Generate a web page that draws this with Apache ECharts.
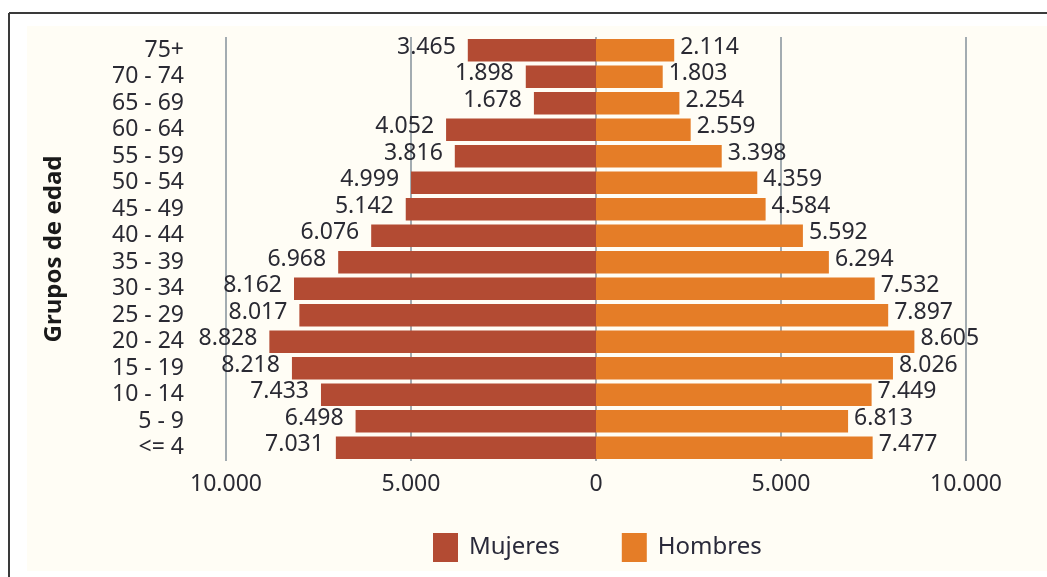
<!DOCTYPE html>
<html><head><meta charset="utf-8">
<script src="https://cdn.jsdelivr.net/npm/echarts@6/dist/echarts.min.js"></script>
<style>html,body{margin:0;padding:0;background:#fff}#c{width:1047px;height:577px}</style>
</head><body><div id="c"></div>
<script>
const categories = ['<= 4','5 - 9','10 - 14','15 - 19','20 - 24','25 - 29','30 - 34','35 - 39','40 - 44','45 - 49','50 - 54','55 - 59','60 - 64','65 - 69','70 - 74','75+'];
const mujeres = [7031,6498,7433,8218,8828,8017,8162,6968,6076,5142,4999,3816,4052,1678,1898,3465];
const hombres = [7477,6813,7449,8026,8605,7897,7532,6294,5592,4584,4359,3398,2559,2254,1803,2114];
const xTicks = [-10000,-5000,0,5000,10000];

function fmt(v){ v=Math.abs(v); const s=String(Math.round(v)); return s.replace(/\B(?=(\d{3})+(?!\d))/g,'.'); }
const F = 'Noto Sans';
const chart = echarts.init(document.getElementById('c'));
chart.setOption({
  backgroundColor:'#ffffff',
  animation:false,
  graphic:[
    {type:'rect',z:-10,shape:{x:27,y:26,width:1020,height:545},style:{fill:'#fffdf5'}},
    {type:'line',z:-5,shape:{x1:9,y1:13,x2:1047,y2:13},style:{stroke:'#3a3a3a',lineWidth:2}},
    {type:'line',z:-5,shape:{x1:9,y1:13,x2:9,y2:577},style:{stroke:'#3a3a3a',lineWidth:2}}
  ],
  grid:{left:226,right:81,top:37,bottom:116,containLabel:false},
  legend:{
    data:['Mujeres','Hombres'],top:528,left:428,itemWidth:25,itemHeight:29,itemGap:62,
    icon:'rect',textStyle:{fontFamily:F,fontSize:24,color:'#2a2a3a',padding:[0,0,0,6]}
  },
  xAxis:{
    type:'value',min:xTicks[0],max:xTicks[xTicks.length-1],interval:5000,
    axisLine:{show:false},axisTick:{show:false},
    splitLine:{show:true,lineStyle:{color:'#85919a',width:1.5}},
    axisLabel:{formatter:fmt,fontFamily:F,fontSize:23,color:'#2a2a33',margin:12}
  },
  yAxis:{
    type:'category',data:categories,
    axisLine:{show:false},axisTick:{show:false},
    axisLabel:{interval:0,fontFamily:F,fontSize:23,color:'#2a2a33',margin:42},
    name:'Grupos de edad',nameLocation:'middle',nameRotate:90,nameGap:160,
    nameTextStyle:{fontFamily:F,fontSize:24,fontWeight:'bold',color:'#1a1a1a'}
  },
  series:[
    {name:'Mujeres',type:'bar',data:mujeres.map(v=>-v),barGap:'-100%',barCategoryGap:'15%',
     itemStyle:{color:'#b34b33'},
     label:{show:true,position:'left',distance:12,formatter:p=>fmt(p.value),fontFamily:F,fontSize:23,color:'#2a2a33',offset:[0,-3]}},
    {name:'Hombres',type:'bar',data:hombres,barGap:'-100%',barCategoryGap:'15%',
     itemStyle:{color:'#e57d27'},
     label:{show:true,position:'right',distance:6,formatter:p=>fmt(p.value),fontFamily:F,fontSize:23,color:'#2a2a33',offset:[0,-3]}}
  ]
});
</script></body></html>
